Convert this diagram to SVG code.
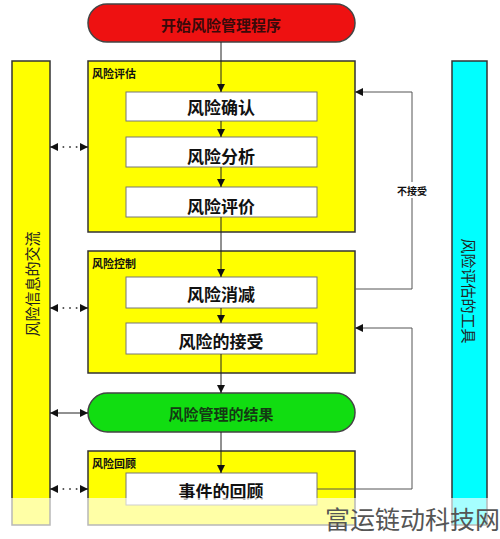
<svg xmlns="http://www.w3.org/2000/svg" width="500" height="539" viewBox="0 0 500 539">
<style>
  .frame{fill:#ffff00;stroke:#333;stroke-width:1.5}
  .inner{fill:#fff;stroke:#777;stroke-width:1}
  .t{font-family:"Noto Sans CJK SC","Noto Sans",sans-serif;font-weight:bold;text-anchor:middle;dominant-baseline:central}
  .box{font-size:17px;fill:#111}
  .lbl{font-size:11px;fill:#111;text-anchor:start}
  .ln{stroke:#222;stroke-width:1;fill:none}
  .fb{stroke:#555;stroke-width:1;fill:none}
  .dot{stroke:#222;stroke-width:1.6;fill:none;stroke-dasharray:1.6,5}
</style>
<defs>
  <marker id="ah" viewBox="0 0 10 10" refX="10" refY="5" markerWidth="8" markerHeight="8" markerUnits="userSpaceOnUse" orient="auto-start-reverse">
    <path d="M0,0 L10,5 L0,10 z" fill="#111"/>
  </marker>
</defs>
<rect width="500" height="539" fill="#fff"/>

<g id="side-left">
  <rect x="12" y="61" width="38" height="464" class="frame"/>
  <text class="t" x="31" y="284" font-size="15" transform="rotate(-90 31 284)" style="font-weight:normal;fill:#222">风险信息的交流</text>
</g>
<g id="side-right">
  <rect x="452" y="61" width="35" height="464" fill="#00ffff" stroke="#333" stroke-width="1.5"/>
  <text class="t" x="469" y="291" font-size="15" transform="rotate(90 469 291)" style="font-weight:normal;fill:#222">风险评估的工具</text>
</g>

<g id="start">
  <rect x="88" y="4" width="267" height="38" rx="19" fill="#ee1111" stroke="#444" stroke-width="1.5"/>
  <text class="t" x="221" y="24" font-size="15" fill="#3a0a0a">开始风险管理程序</text>
</g>

<g id="assessment">
  <rect x="88" y="61" width="267" height="171" class="frame"/>
  <text class="t lbl" x="92" y="73">风险评估</text>
</g>
<g id="identify">
  <rect x="126" y="92" width="191" height="29" class="inner"/>
  <text class="t box" x="221" y="106">风险确认</text>
</g>
<g id="analyze">
  <rect x="126" y="137" width="191" height="30" class="inner"/>
  <text class="t box" x="221" y="155">风险分析</text>
</g>
<g id="evaluate">
  <rect x="126" y="187" width="191" height="30" class="inner"/>
  <text class="t box" x="221" y="205">风险评价</text>
</g>

<g id="control">
  <rect x="88" y="251" width="267" height="122" class="frame"/>
  <text class="t lbl" x="92" y="263">风险控制</text>
</g>
<g id="reduce">
  <rect x="126" y="277" width="191" height="31" class="inner"/>
  <text class="t box" x="221" y="293">风险消减</text>
</g>
<g id="accept">
  <rect x="126" y="323" width="191" height="31" class="inner"/>
  <text class="t box" x="221" y="340">风险的接受</text>
</g>

<g id="result">
  <rect x="88" y="393" width="267" height="39" rx="19.5" fill="#11dd11" stroke="#444" stroke-width="1.5"/>
  <text class="t" x="221" y="413" font-size="15" fill="#143a14">风险管理的结果</text>
</g>

<g id="review">
  <rect x="88" y="451" width="267" height="74" class="frame"/>
  <text class="t lbl" x="92" y="463">风险回顾</text>
</g>
<g id="event-review">
  <rect x="126" y="473" width="191" height="32" class="inner"/>
  <text class="t box" x="221" y="490">事件的回顾</text>
</g>

<g id="connectors">
  <line class="ln" x1="221" y1="42" x2="221" y2="92" marker-end="url(#ah)"/>
  <line class="ln" x1="221" y1="121" x2="221" y2="137" marker-end="url(#ah)"/>
  <line class="ln" x1="221" y1="167" x2="221" y2="187" marker-end="url(#ah)"/>
  <line class="ln" x1="221" y1="217" x2="221" y2="277" marker-end="url(#ah)"/>
  <line class="ln" x1="221" y1="308" x2="221" y2="323" marker-end="url(#ah)"/>
  <line class="ln" x1="221" y1="354" x2="221" y2="393" marker-end="url(#ah)"/>
  <line class="ln" x1="221" y1="432" x2="221" y2="473" marker-end="url(#ah)"/>
  <polyline class="fb" points="355,289 412,289 412,92 355,92" marker-end="url(#ah)"/>
  <polyline class="fb" points="317,489 412,489 412,328 355,328" marker-end="url(#ah)"/>
  <rect x="393" y="182" width="38" height="16" fill="#fff"/>
  <text class="t" x="412" y="190" font-size="10" fill="#111">不接受</text>
  <line class="dot" x1="56" y1="147" x2="82" y2="147"/>
  <line class="ln" x1="56" y1="147" x2="50" y2="147" marker-end="url(#ah)"/>
  <line class="ln" x1="82" y1="147" x2="88" y2="147" marker-end="url(#ah)"/>
  <line class="dot" x1="56" y1="308" x2="82" y2="308"/>
  <line class="ln" x1="56" y1="308" x2="50" y2="308" marker-end="url(#ah)"/>
  <line class="ln" x1="82" y1="308" x2="88" y2="308" marker-end="url(#ah)"/>
  <line class="ln" x1="50" y1="413" x2="88" y2="413" stroke-width="1.5" marker-start="url(#ah)" marker-end="url(#ah)"/>
  <line class="dot" x1="56" y1="489" x2="82" y2="489"/>
  <line class="ln" x1="56" y1="489" x2="50" y2="489" marker-end="url(#ah)"/>
  <line class="ln" x1="82" y1="489" x2="88" y2="489" marker-end="url(#ah)"/>
</g>

<rect x="0" y="498" width="500" height="41" fill="#fff" fill-opacity="0.65"/>
<text x="325" y="529" font-family="Noto Sans CJK SC,sans-serif" font-size="25" fill="#555">富运链动科技网</text>
</svg>
